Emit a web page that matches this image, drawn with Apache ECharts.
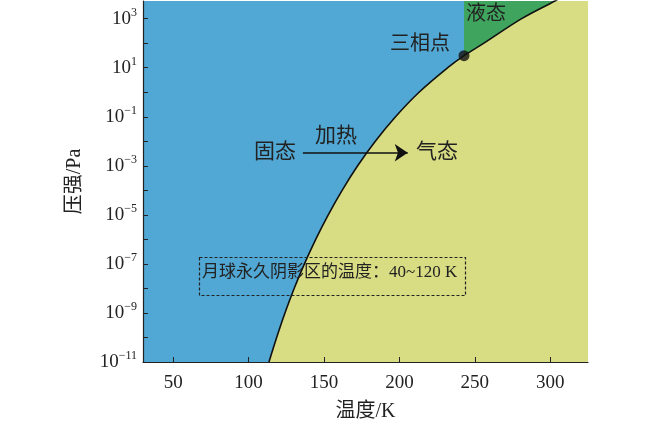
<!DOCTYPE html>
<html>
<head>
<meta charset="utf-8">
<script src="https://cdn.jsdelivr.net/npm/echarts@6/dist/echarts.min.js"></script>
<style>
  html, body { margin: 0; padding: 0; background: #fff; }
  #main { width: 650px; height: 433px; }
</style>
</head>
<body>
<div id="main"></div>
<script>
// 升华曲线（温度 K，压强 Pa）
var curveT = [113.5, 118.6, 124.1, 130.2, 137, 144.5, 152.8, 162, 172.3, 184, 197.4, 213, 232, 242.8, 256, 281, 303, 320, 340];
var curveP = [1e-11, 1e-10, 1e-9, 1e-8, 1e-7, 1e-6, 1e-5, 1e-4, 1e-3, 1e-2, 1e-1, 1, 10, 31, 100, 1000, 5250, 2e4, 6.3e4];
// 三相点
var tripleT = 242.8;
var tripleP = 31;
// 坐标轴
var xTicks = [50, 100, 150, 200, 250, 300];
var yTickExp = [-11, -10, -9, -8, -7, -6, -5, -4, -3, -2, -1, 0, 1, 2, 3];
var yLabelExp = [-11, -9, -7, -5, -3, -1, 1, 3];
// 加热箭头
var arrowT = [136, 205.5];
var arrowP = 3.4e-3;

var serif = "'Liberation Serif', 'Noto Sans CJK SC', serif";

var curve = [];
var liquid = [];
for (var i = 0; i < curveT.length; i++) {
    var pt = [curveT[i], Math.log10(curveP[i])];
    curve.push(pt);
    if (curveT[i] >= tripleT) liquid.push(pt);   // 三相点右侧是液态区
}

var myChart = echarts.init(document.getElementById('main'));

var option = {
    animation: false,
    grid: {
        left: 143, right: 62, top: 1, bottom: 71,
        show: true, borderWidth: 0,
        backgroundColor: '#51a8d4'      // 固态区
    },
    xAxis: {
        type: 'value', min: 30, max: 325,
        name: '温度/K', nameLocation: 'middle', nameGap: 40,
        nameTextStyle: { fontFamily: serif, fontSize: 20, color: '#222' },
        axisLine: { onZero: false, lineStyle: { color: '#222', width: 1.2 } },
        axisTick: { inside: true, length: 5, customValues: xTicks, lineStyle: { color: '#222' } },
        axisLabel: { customValues: xTicks, fontFamily: serif, fontSize: 19, color: '#222', margin: 12 },
        splitLine: { show: false },
        z: 10
    },
    yAxis: {
        type: 'value', min: -11, max: 3.72,
        name: '压强/Pa', nameLocation: 'middle', nameGap: 58,
        nameTextStyle: { fontFamily: serif, fontSize: 20, color: '#222' },
        axisLine: { show: true, onZero: false, lineStyle: { color: '#222', width: 1.2 } },
        axisTick: { inside: true, length: 5, customValues: yTickExp, lineStyle: { color: '#222' } },
        axisLabel: {
            customValues: yLabelExp, margin: 6,
            formatter: function (v) {
                var e = v < 0 ? '\u2212' + (-v) : '' + v;
                return '{b|10}{s|' + e + '}';
            },
            rich: {
                b: { fontFamily: serif, fontSize: 19, color: '#222' },
                s: { fontFamily: serif, fontSize: 12, color: '#222', padding: [0, 0, 12, 0] }
            }
        },
        splitLine: { show: false },
        z: 10
    },
    series: [
        {   // 气态区
            type: 'line', data: curve, smooth: 0.35, symbol: 'none',
            lineStyle: { width: 0 },
            areaStyle: { color: '#d8dc82', opacity: 1, origin: 'start' },
            z: 1
        },
        {   // 液态区
            type: 'line', data: liquid, smooth: 0.35, symbol: 'none',
            lineStyle: { width: 0 },
            areaStyle: { color: '#3fa45e', opacity: 1, origin: 'end' },
            z: 1
        },
        {   // 相界线
            type: 'line', data: curve, smooth: 0.35, symbol: 'none',
            lineStyle: { color: '#111', width: 1.6 },
            z: 3
        },
        {   // 三相点
            type: 'scatter', data: [[tripleT, Math.log10(tripleP)]],
            symbolSize: 11, itemStyle: { color: '#111' }, z: 5,
            markLine: {
                silent: true, symbol: ['none', 'arrow'], symbolSize: 13,
                label: { show: false },
                lineStyle: { color: '#111', width: 1.6, type: 'solid' },
                data: [[
                    { coord: [arrowT[0], Math.log10(arrowP)] },
                    { coord: [arrowT[1], Math.log10(arrowP)] }
                ]]
            }
        }
    ],
    graphic: [
        { type: 'text', left: 390, top: 35, z: 20, style: { text: '三相点', font: '20px ' + serif, fill: '#222' } },
        { type: 'text', left: 466, top: 5, z: 20, style: { text: '液态', font: '20px ' + serif, fill: '#222' } },
        { type: 'text', left: 254, top: 142, z: 20, style: { text: '固态', font: '21px ' + serif, fill: '#222' } },
        { type: 'text', left: 315, top: 126, z: 20, style: { text: '加热', font: '21px ' + serif, fill: '#222' } },
        { type: 'text', left: 416, top: 142, z: 20, style: { text: '气态', font: '21px ' + serif, fill: '#222' } },
        {
            type: 'rect', left: 197, top: 255, z: 20,
            shape: { width: 266, height: 38 },
            style: { fill: 'none', stroke: '#222', lineWidth: 1.2, lineDash: [3, 2] }
        },
        { type: 'text', left: 202, top: 264, z: 20, style: { text: '月球永久阴影区的温度：40~120 K', font: '17px ' + serif, fill: '#222' } }
    ]
};

myChart.setOption(option);
</script>
</body>
</html>
